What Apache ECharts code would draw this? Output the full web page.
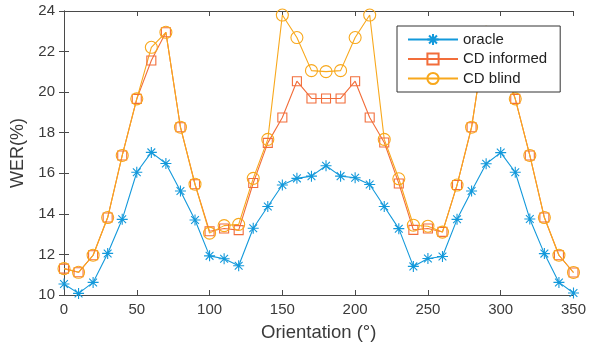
<!DOCTYPE html>
<html>
<head>
<meta charset="utf-8">
<script src="https://cdn.jsdelivr.net/npm/echarts@6/dist/echarts.min.js"></script>
<style>html,body{margin:0;padding:0;background:#fff;}#c{width:589px;height:347px;}</style>
</head>
<body>
<div id="c"></div>
<script>
var orientations = [0,10,20,30,40,50,60,70,80,90,100,110,120,130,140,150,160,170,180,190,200,210,220,230,240,250,260,270,280,290,300,310,320,330,340,350];
var oracle = [10.54,10.08,10.62,12.05,13.73,16.05,17.03,16.48,15.13,13.7,11.93,11.79,11.44,13.29,14.36,15.42,15.75,15.86,16.37,15.86,15.78,15.45,14.36,13.27,11.41,11.8,11.9,13.73,15.13,16.47,17.02,16.05,13.75,12.04,10.62,10.1];
var cdInformed = [11.3,11.12,11.96,13.82,16.88,19.67,21.56,22.95,18.27,15.46,13.14,13.28,13.2,15.52,17.5,18.75,20.54,19.69,19.69,19.69,20.54,18.75,17.52,15.5,13.21,13.28,13.11,15.42,18.27,22.95,21.56,19.67,16.88,13.82,11.96,11.11];
var cdBlind = [11.3,11.12,11.96,13.82,16.88,19.67,22.21,22.95,18.27,15.46,13.05,13.42,13.48,15.75,17.67,23.8,22.69,21.06,21.01,21.06,22.69,23.8,17.67,15.73,13.44,13.39,13.1,15.42,18.27,22.95,22.21,19.67,16.88,13.82,11.96,11.11];
var seriesNames = ['oracle','CD informed','CD blind'];
var xTicks = {min:0, max:350, interval:50};
var yTicks = {min:10, max:24, interval:2};

function pairs(vals){ return orientations.map(function(x,i){ return [x, vals[i]]; }); }

var blue = '#1399db', red = '#f26d3a', yellow = '#f8a81c';
var axisCol = '#4a4a4a', textCol = '#3a3a3a';
var font = 'Liberation Sans, Arial, Helvetica, sans-serif';
var star = 'path://M0,-10L0,10M-10,0L10,0M-7.07,-7.07L7.07,7.07M-7.07,7.07L7.07,-7.07';

function mkSeries(name, vals, color, symbol, size){
  return {
    name: name, type: 'line', data: pairs(vals),
    symbol: symbol, symbolSize: size,
    lineStyle: {color: color, width: 1.1},
    itemStyle: {color: 'rgba(0,0,0,0)', borderColor: color, borderWidth: 1.1},
    emphasis: {disabled: true},
    animation: false
  };
}

var chart = echarts.init(document.getElementById('c'), null, {renderer:'canvas'});
chart.setOption({
  backgroundColor: '#fff',
  animation: false,
  grid: {left: 64, top: 11, right: 12, bottom: 51, containLabel: false},
  legend: {
    orient: 'vertical', left: 397, top: 26,
    padding: [6, 13, 6, 10], itemGap: 4.5, itemWidth: 50, itemHeight: 14,
    backgroundColor: '#fff', borderColor: '#333', borderWidth: 1,
    textStyle: {fontFamily: font, fontSize: 15, color: '#222'},
    data: seriesNames
  },
  xAxis: [{
    type: 'value', min: xTicks.min, max: xTicks.max, interval: xTicks.interval,
    name: 'Orientation (°)', nameLocation: 'middle', nameGap: 28,
    nameTextStyle: {fontFamily: font, fontSize: 18.5, color: textCol},
    axisLine: {lineStyle: {color: axisCol, width: 1}},
    axisTick: {inside: true, length: 5, lineStyle: {color: axisCol}},
    axisLabel: {fontFamily: font, fontSize: 15, color: textCol, margin: 7},
    splitLine: {show: false}
  },{
    type: 'value', position: 'top', min: xTicks.min, max: xTicks.max, interval: xTicks.interval,
    axisLine: {show: true, lineStyle: {color: axisCol, width: 1}},
    axisTick: {inside: true, length: 5, lineStyle: {color: axisCol}},
    axisLabel: {show: false}, splitLine: {show: false}
  }],
  yAxis: [{
    type: 'value', min: yTicks.min, max: yTicks.max, interval: yTicks.interval,
    name: 'WER(%)', nameLocation: 'middle', nameGap: 31,
    nameTextStyle: {fontFamily: font, fontSize: 18, color: textCol},
    axisLine: {show: true, lineStyle: {color: axisCol, width: 1}},
    axisTick: {show: true, inside: true, length: 5, lineStyle: {color: axisCol}},
    axisLabel: {fontFamily: font, fontSize: 15, color: textCol, margin: 9},
    splitLine: {show: false}
  },{
    type: 'value', position: 'right', min: yTicks.min, max: yTicks.max, interval: yTicks.interval,
    axisLine: {show: true, lineStyle: {color: axisCol, width: 1}},
    axisTick: {show: true, inside: true, length: 5, lineStyle: {color: axisCol}},
    axisLabel: {show: false}, splitLine: {show: false}
  }],
  series: [
    mkSeries(seriesNames[0], oracle, blue, star, 11),
    mkSeries(seriesNames[1], cdInformed, red, 'rect', 9),
    mkSeries(seriesNames[2], cdBlind, yellow, 'circle', 12)
  ]
});
</script>
</body>
</html>
